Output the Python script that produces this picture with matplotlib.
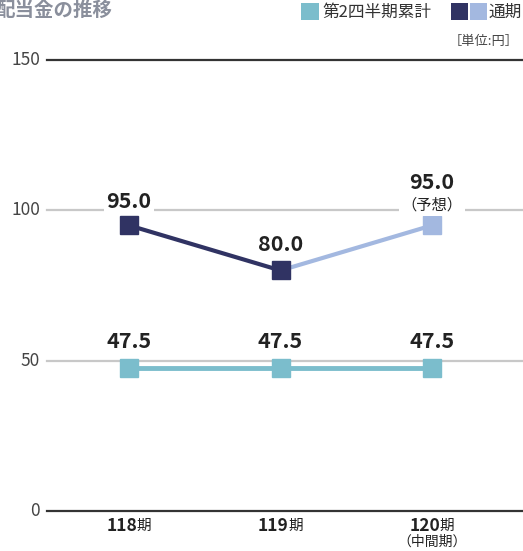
import matplotlib
matplotlib.use("Agg")
import matplotlib.pyplot as plt
from matplotlib.patches import Rectangle

plt.rcParams['font.family'] = ['Noto Sans CJK JP', 'DejaVu Sans']

# data
periods = ["118", "119", "120"]
q2_cum = [47.5, 47.5, 47.5]
full_year = [95.0, 80.0, 95.0]
full_labels = ["95.0", "80.0", "95.0"]
q2_labels = ["47.5", "47.5", "47.5"]
yticks = [0, 50, 100, 150]

c_teal = "#7bbdcc"
c_navy = "#303363"
c_light = "#a3b8e0"
c_tick = "#444444"
c_lab = "#222222"

W, H = 523, 551
fig = plt.figure(figsize=(W / 100, H / 100), dpi=100)
ax = fig.add_axes([47 / W, 1 - 511 / H, 1 - 47 / W, (511 - 60) / H])

x = list(range(len(periods)))
ax.set_xlim(-0.541, 2.60)
ax.set_ylim(0, 150)

# grid lines
for v in yticks:
    col = "#333333" if v in (0, 150) else "#c8c8c8"
    ax.axhline(v, color=col, lw=1.6, zorder=1, clip_on=False)

# lines
ax.plot(x, q2_cum, color=c_teal, lw=3.5, zorder=3)
ax.plot(x, q2_cum, ls="none", marker="s", ms=12.5, color=c_teal, zorder=4)
ax.plot(x[:2], full_year[:2], color=c_navy, lw=3, zorder=3)
ax.plot(x[1:], full_year[1:], color=c_light, lw=3, zorder=3)
ax.plot(x[:2], full_year[:2], ls="none", marker="s", ms=12.5, color=c_navy, zorder=4)
ax.plot(x[2:], full_year[2:], ls="none", marker="s", ms=12.5, color=c_light, zorder=4)

# value labels
bb = dict(facecolor="white", edgecolor="none", pad=2)
offs = [17, 19, 31]
for i, (v, s) in enumerate(zip(full_year, full_labels)):
    ax.annotate(s, (i, v), xytext=(0, offs[i]), textcoords="offset points",
                ha="center", va="center", fontsize=15.5, fontweight="bold",
                color=c_lab, bbox=bb, zorder=5)
ax.annotate("（予想）", (2, full_year[2]), xytext=(0, 15), textcoords="offset points",
            ha="center", va="center", fontsize=11, color=c_lab, bbox=bb, zorder=5)
for i, (v, s) in enumerate(zip(q2_cum, q2_labels)):
    ax.annotate(s, (i, v), xytext=(0, 19), textcoords="offset points",
                ha="center", va="center", fontsize=15.5, fontweight="bold",
                color=c_lab, zorder=5)

# y tick labels
ax.set_xticks([])
ax.set_yticks([])
for v in yticks:
    ax.annotate(str(v), (-0.541, v), xytext=(-5, 0), textcoords="offset points",
                ha="right", va="center", fontsize=12.5, color=c_tick)

# x labels
for i, p in enumerate(periods):
    ax.annotate(p, (i, 0), xytext=(6, -11), textcoords="offset points",
                ha="right", va="center", fontsize=12.5, fontweight="bold", color=c_lab)
    ax.annotate("期", (i, 0), xytext=(5.5, -11), textcoords="offset points",
                ha="left", va="center", fontsize=10.5, color=c_lab)
ax.annotate("（中間期）", (2, 0), xytext=(0, -22), textcoords="offset points",
            ha="center", va="center", fontsize=10, color=c_lab)

for s in ax.spines.values():
    s.set_visible(False)

# title (cut at left edge, as in the source)
fig.text(-5 / W, 1 - 10 / H, "配当金の推移", fontsize=14, fontweight="bold",
         color="#8a8f9c", ha="left", va="center")

# legend
def px_rect(x0, y0, w, h, col):
    fig.add_artist(Rectangle((x0 / W, 1 - (y0 + h) / H), w / W, h / H,
                             transform=fig.transFigure, color=col, lw=0))

px_rect(301, 3, 18, 17, c_teal)
fig.text(322 / W, 1 - 12 / H, "第2四半期累計", fontsize=12, color="#333333",
         ha="left", va="center")
px_rect(451, 3, 17, 17, c_navy)
px_rect(470, 3, 17, 17, c_light)
fig.text(489 / W, 1 - 12 / H, "通期", fontsize=12, color="#333333",
         ha="left", va="center")
fig.text(519 / W, 1 - 42 / H, "［単位:円］", fontsize=9.5, color="#444444",
         ha="right", va="center")

fig.savefig("out.png", dpi=100)
